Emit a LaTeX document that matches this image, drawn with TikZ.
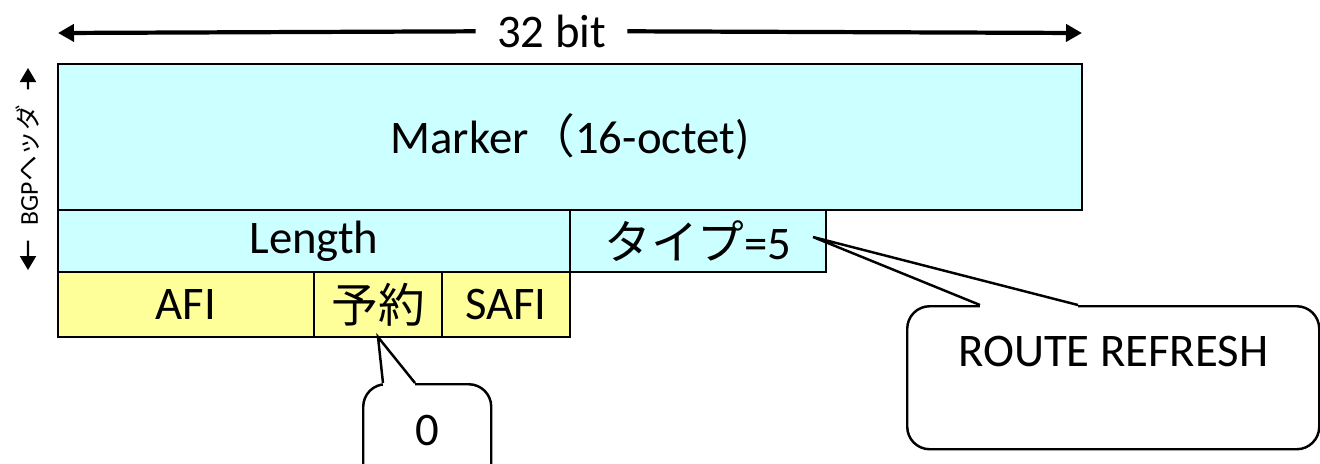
\documentclass[tikz,border=0pt]{standalone}
\usepackage{fontspec}
\setmainfont{Carlito}
\newfontfamily\jpfont{Noto Sans CJK JP}
\usepackage{tikz}
\usetikzlibrary{arrows.meta, positioning, calc}
\definecolor{fldcyan}{RGB}{204,255,255}
\definecolor{fldyellow}{RGB}{255,255,153}

\begin{document}
\begin{tikzpicture}[
  fld/.style={rectangle, draw=black, line width=1.4pt, outer sep=0pt, inner sep=0.1cm, align=center, font=\fontsize{26.6}{30}\selectfont},
  cyanfld/.style={fld, fill=fldcyan},
  ylwfld/.style={fld, fill=fldyellow},
  callbox/.style={rectangle, draw=black, line width=1.4pt, fill=white, rounded corners=0.45cm, align=center, font=\fontsize{26.6}{30}\selectfont},
  ptr/.style={line width=1.4pt, line join=miter},
  wide/.style={-{Triangle[length=3.2mm, width=3.4mm]}, line width=2.4pt},
  narrow/.style={-{Triangle[length=2.8mm, width=3.2mm]}, line width=1.2pt}
]
\path[use as bounding box, clip] (0,0) rectangle (26.4,-9.26);
% header fields
\node[cyanfld, minimum width=20.48cm, minimum height=2.92cm] (mk) at (11.4,-2.74) {Marker{\jpfont （}16-octet)};
\node[cyanfld, minimum width=10.24cm, minimum height=1.24cm, below right=0cm and 0cm of mk.south west] (len) {Length};
\node[cyanfld, minimum width=5.12cm, minimum height=1.24cm, right=0cm of len] (typ) {{\jpfont タイプ}=5};
% message fields
\node[ylwfld, minimum width=5.12cm, minimum height=1.3cm, below right=0cm and 0cm of len.south west] (afi) {AFI};
\node[ylwfld, minimum width=2.56cm, minimum height=1.3cm, right=0cm of afi] (rsv) {\jpfont 予約};
\node[ylwfld, minimum width=2.56cm, minimum height=1.3cm, right=0cm of rsv] (safi) {SAFI};
% width
\node[font=\fontsize{26.6}{30}\selectfont, inner xsep=0.42cm] (bits) at (11.03,-0.62) {32 bit};
\coordinate (wl) at ($(mk.north west)+(0,0.62)$);
\coordinate (wr) at ($(mk.north east)+(0,0.62)$);
\draw[wide] (bits) -- (wl);
\draw[wide] (bits) -- (wr);
% header height
\node[rotate=90, font=\fontsize{14.6}{16}\selectfont, inner xsep=0.3cm] (hdr) at (0.56,-3.3) {BGP{\jpfont ヘッダ}};
\coordinate (ht) at ($(mk.north west)+(-0.6,-0.08)$);
\coordinate (hb) at ($(len.south west)+(-0.6,0.04)$);
\draw[narrow] (hdr) -- (ht);
\draw[narrow] (hdr) -- (hb);
% callouts
\node[callbox, minimum width=8.24cm, minimum height=2.86cm, anchor=north west] (rr) at (18.12,-6.1) {ROUTE REFRESH\\\mbox{}};
\coordinate (rrtip) at ($(typ.east)+(-0.26,0.08)$);
\coordinate (rra) at ($(rr.north west)+(1.48,0)$);
\coordinate (rrb) at ($(rr.north west)+(3.44,0)$);
\fill[white] ($(rra)+(0,-0.05)$) rectangle ($(rrb)+(0,0.05)$);
\draw[ptr] (rra) -- (rrtip) -- (rrb);
\node[callbox, minimum width=2.56cm, minimum height=2.9cm, anchor=north west] (zero) at (7.24,-7.66) {0\\\mbox{}};
\coordinate (zra) at ($(zero.north west)+(0.42,0)$);
\coordinate (zrb) at ($(zero.north west)+(1.06,0)$);
\fill[white] ($(zra)+(0,-0.05)$) rectangle ($(zrb)+(0,0.05)$);
\draw[ptr] (zra) -- (rsv.south) -- (zrb);
\end{tikzpicture}
\end{document}
